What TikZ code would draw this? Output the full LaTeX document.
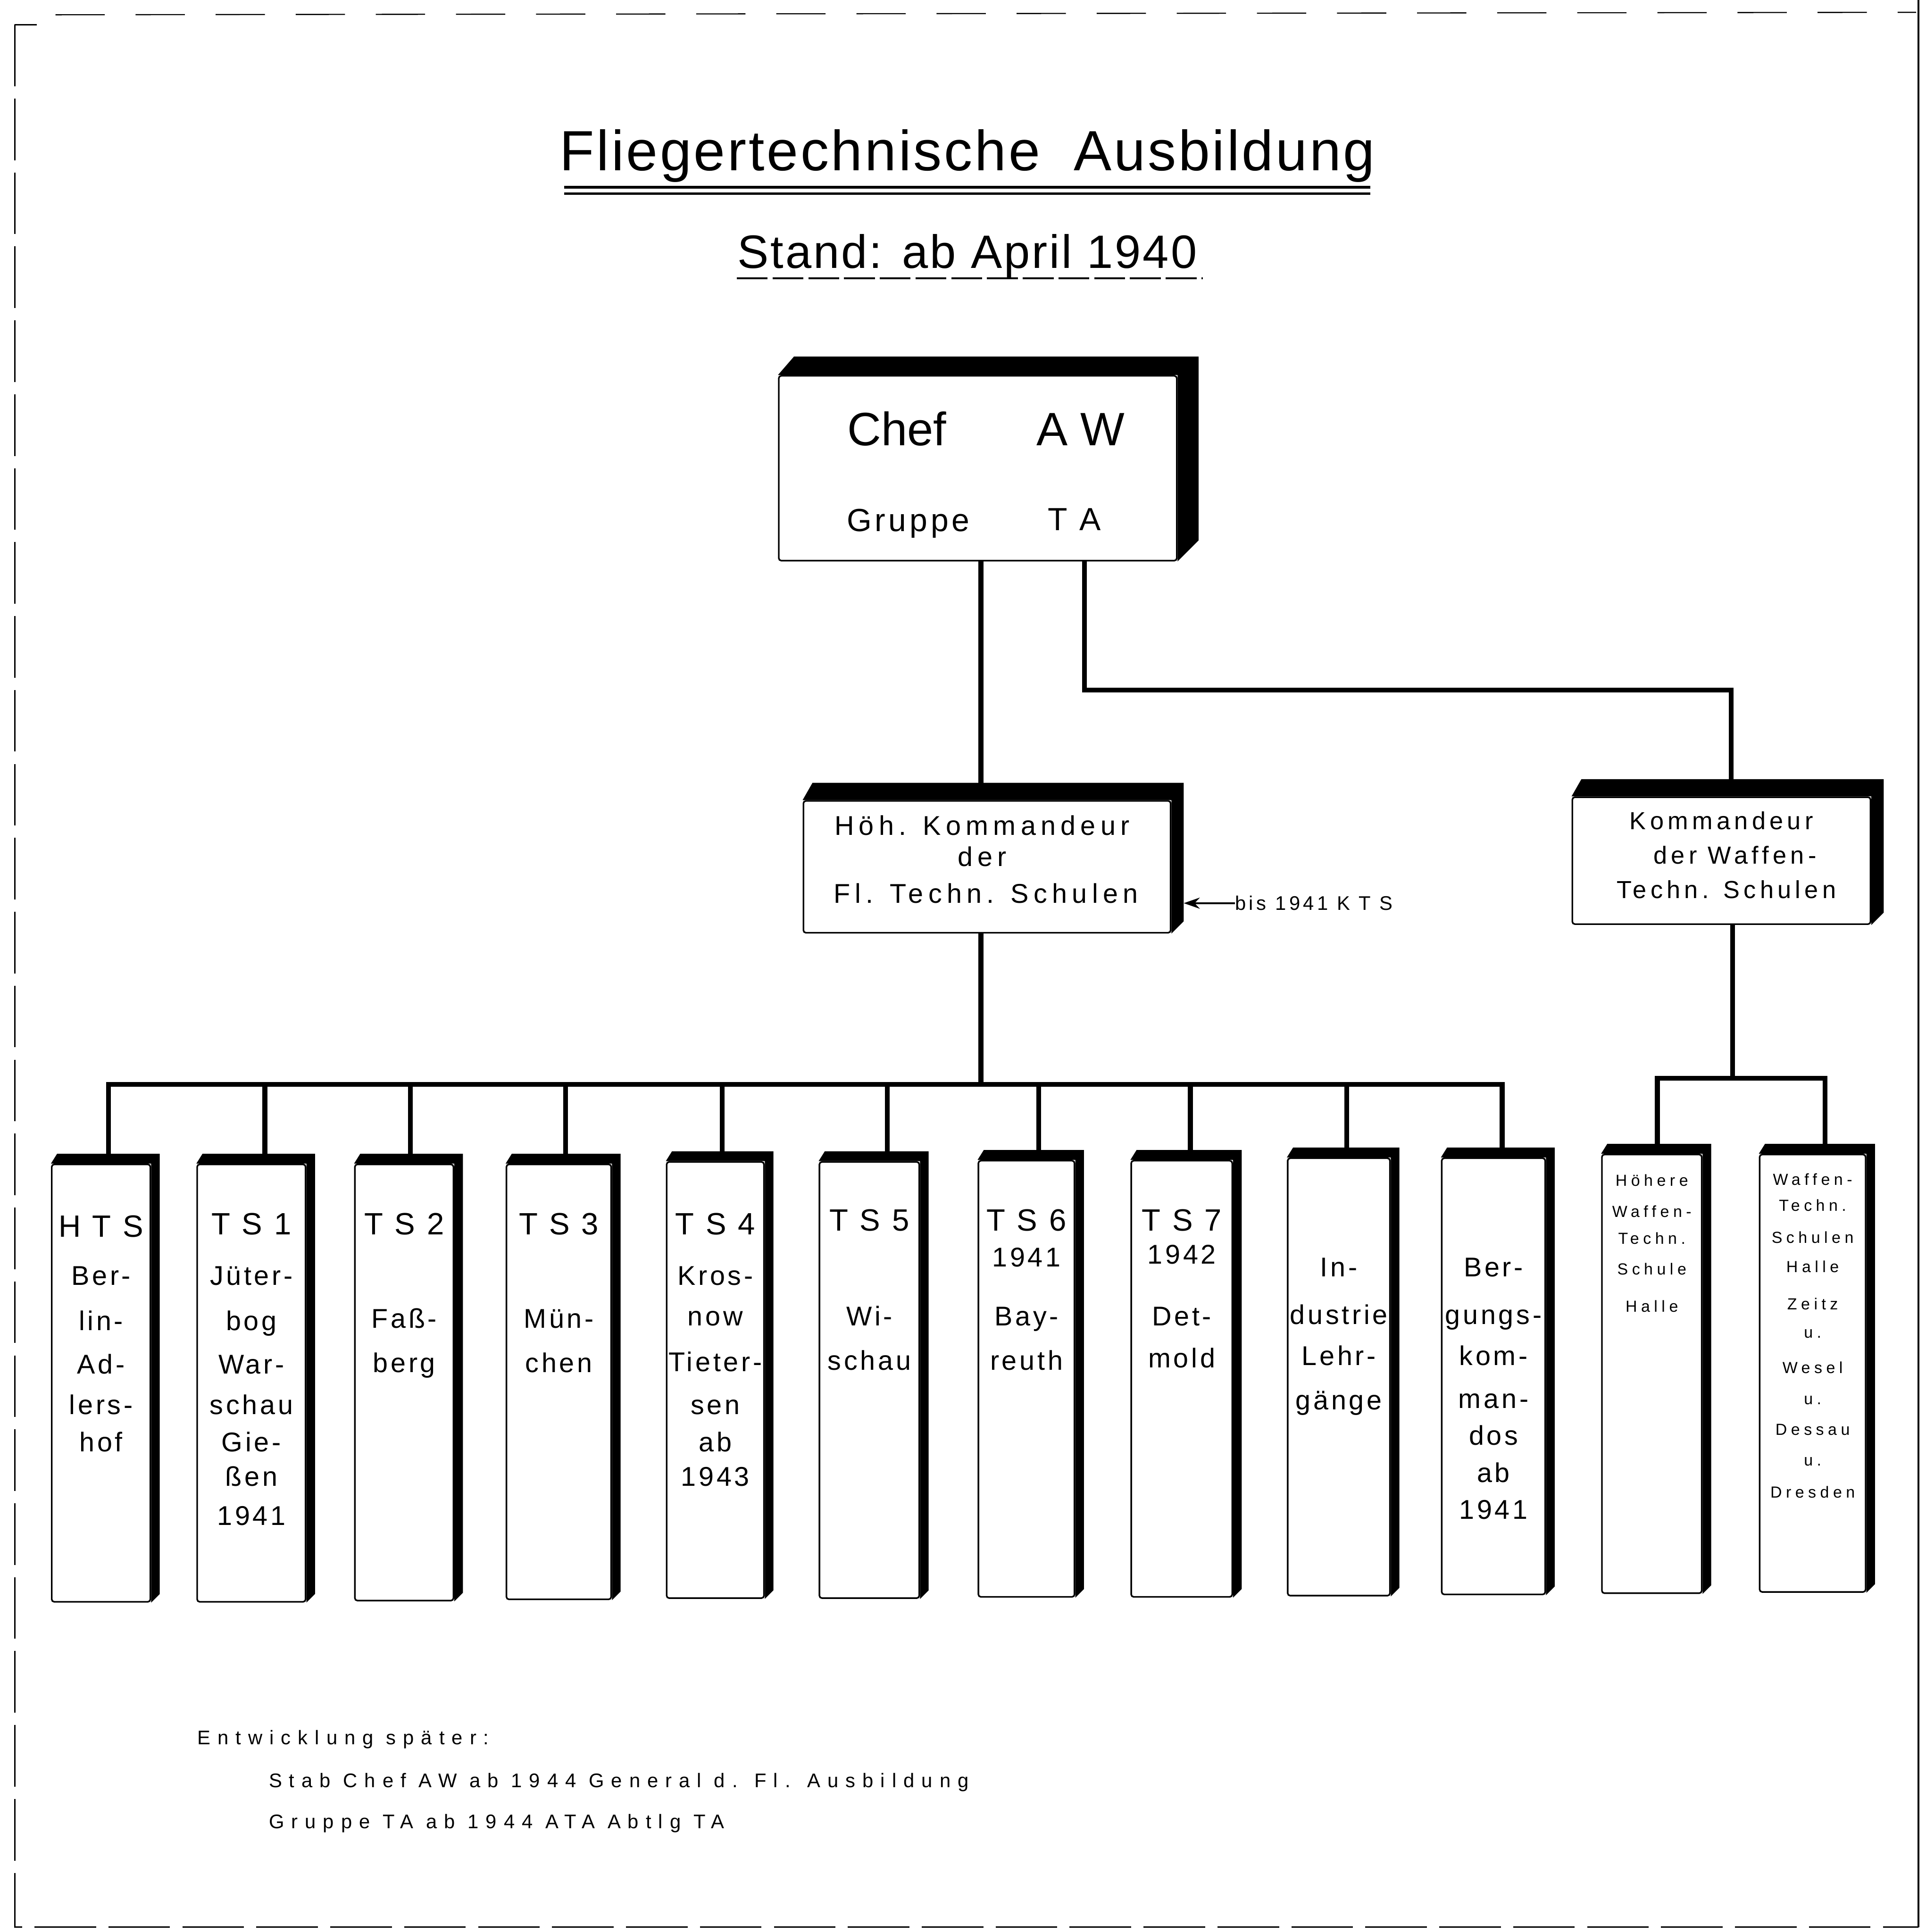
\documentclass[tikz,border=0pt]{standalone}
\usepackage{fontspec}
\setmainfont{Liberation Sans}
\newfontfamily\fT[LetterSpace=4]{Liberation Sans}
\newfontfamily\fM[LetterSpace=10]{Liberation Sans}
\newfontfamily\fH[LetterSpace=18]{Liberation Sans}
\newfontfamily\fW[LetterSpace=16]{Liberation Sans}
\newfontfamily\fS[LetterSpace=25]{Liberation Sans}
\newfontfamily\fF[LetterSpace=36]{Liberation Sans}
\usetikzlibrary{calc,arrows.meta}
\newcommand\boxshadow[4]{\fill[black] (#1.north west) -- ++(#4,-#3) -- ($(#1.north east)+(#2,-#3)$) -- ($(#1.south east)+(#2,-#2)$) -- (#1.south east) -- (#1.north east) -- cycle;}
\begin{document}
\begin{tikzpicture}[x=1pt,y=-1pt,
  front/.style={draw, line width=1.3pt, rounded corners=2pt, inner sep=0pt, fill=white},
  conn/.style={line width=4pt},
  frame/.style={line width=1.2pt, dash pattern=on 50pt off 10pt},
  lbl/.style={inner sep=0pt, anchor=base},
  bth/.style={lbl, yshift=-9pt, font=\fM\fontsize{25}{28}\selectfont},
  btx/.style={lbl, yshift=-7.9pt, font=\fM\fontsize{22}{25}\selectfont},
  bsm/.style={lbl, yshift=-4.7pt, font=\fS\fontsize{13}{15}\selectfont},
  mtx/.style={lbl, yshift=-7.9pt, font=\fH\fontsize{22}{25}\selectfont},
  wtx/.style={lbl, yshift=-7.2pt, font=\fW\fontsize{20}{23}\selectfont},
  fn/.style={inner sep=0pt, anchor=base west, yshift=-5.8pt, font=\fF\fontsize{16}{18}\selectfont}]
\useasboundingbox (0,0) rectangle (1563,1568);
% frame
\draw[frame] (12,20) -- (12,1564) -- (1557,1564);
\draw[line width=1.2pt] (12,20) -- (30,20);
\draw[line width=0.9pt, dash pattern=on 40pt off 25pt] (45,12) -- (1555,10);
\draw[line width=1.6pt] (1557,0) -- (1557,1564);
% titles
\node[lbl, yshift=-16.5pt, font=\fT\fontsize{46}{50}\selectfont] (title) at (785,122) {Fliegertechnische\hspace{0.6em}Ausbildung};
\draw[line width=2pt] (458,152) -- (1112,152);
\draw[line width=2pt] (458,157) -- (1112,157);
\node[lbl, yshift=-13.7pt, font=\fT\fontsize{38}{42}\selectfont] (sub) at (785,204) {Stand: ab April 1940};
\draw[line width=1.5pt, dash pattern=on 25pt off 4pt] (598,226) -- (976,226);
% Chef box
\node[front, minimum width=323pt, minimum height=150pt] (chef) at (793.5,380) {};
\boxshadow{chef}{17}{15}{13}
\node[lbl, yshift=-13.7pt, font=\fontsize{38}{42}\selectfont] (chef1) at (728,348) {Chef};
\node[lbl, yshift=-13.7pt, font=\fontsize{38}{42}\selectfont] (chef2) at (877,348) {A W};
\node[lbl, yshift=-9.4pt, font=\fM\fontsize{26}{30}\selectfont] (chef3) at (737,422) {Gruppe};
\node[lbl, yshift=-9.4pt, font=\fM\fontsize{26}{30}\selectfont] (chef4) at (872,421) {T A};
% Hoeh. Kdr box
\node[front, minimum width=298pt, minimum height=107pt] (hoeh) at (801,703.5) {};
\boxshadow{hoeh}{10}{14}{8}
\node[mtx] (hoeh1) at (797,670) {Höh. Kommandeur};
\node[mtx] (hoeh2) at (797,695) {der};
\node[mtx] (hoeh3) at (800,725) {Fl. Techn. Schulen};
% Waffen box
\node[front, minimum width=242pt, minimum height=103pt] (waffen) at (1397,698.5) {};
\boxshadow{waffen}{10}{14}{8}
\node[wtx] (waf1) at (1397,666) {Kommandeur};
\node[wtx] (waf2) at (1408,694) {der Waffen-};
\node[wtx] (waf3) at (1401,722) {Techn. Schulen};
% arrow label
\node[inner sep=0pt, anchor=base west, yshift=-5.8pt, font=\fW\fontsize{16}{18}\selectfont] (kts) at (1002,733) {bis 1941 K T S};
\coordinate (arrtip) at ($(hoeh.east)+(10,0)$);
\coordinate (arrtail) at (1002,733);
\draw[line width=1.6pt, -{Stealth[length=13pt,width=9pt]}] (arrtail) -- (arrtip |- arrtail);
% connectors from Chef
\draw[conn] ($(chef.south)+(2.5,0)$) -- ($(hoeh.north)+(-5,-14)$);
\coordinate (elb) at (1405,560);
\draw[conn] ($(chef.south)+(86.5,0)$) |- (elb) -- ($(waffen.north)+(8,-14)$);
% bottom boxes
\foreach \i/\xa/\xb/\ya/\yb/\dx in {1/42/122/945/1300/6, 2/160/248/945/1300/11, 3/288/368/945/1299/5, 4/411/496/945/1298/5.5, 5/541/620/943/1297/5.5, 6/665/746/943/1297/14.5, 7/794/872/942/1296/10, 8/918/1000/942/1296/7, 9/1045/1128/940/1295/6.5, 10/1170/1254/940/1294/7, 11/1300/1381/937/1293/4.5, 12/1428/1514/937/1292/10}{
  \pgfmathsetmacro\w{\xb-\xa}
  \pgfmathsetmacro\h{\yb-\ya}
  \pgfmathsetmacro\cx{(\xa+\xb)/2}
  \pgfmathsetmacro\cy{(\ya+\yb)/2}
  \node[front, minimum width=\w pt, minimum height=\h pt] (b\i) at (\cx,\cy) {};
  \boxshadow{b\i}{7}{8}{5}
  \coordinate (t\i) at ($(b\i.north)+(\dx,-8)$);
}
\coordinate (busY) at (0,880);
\coordinate (busY2) at (0,875);
\draw[conn] (t1) -- (t1 |- busY) -- (t10 |- busY) -- (t10);
\foreach \i in {2,...,9}{\draw[conn] (t\i) -- (t\i |- busY);}
\path ($(hoeh.south)+(-5,0)$) coordinate (hb);
\draw[conn] (hb) -- (hb |- busY);
\draw[conn] (t11) -- (t11 |- busY2) -- (t12 |- busY2) -- (t12);
\path ($(waffen.south)+(9,0)$) coordinate (wb);
\draw[conn] (wb) -- (wb |- busY2);
% box texts
\node[bth] (h1) at (82,995) {H T S};
\foreach \yy/\s [count=\k] in {1035/Ber-, 1072/lin-, 1107/Ad-, 1140/lers-, 1170/hof}{\node[btx] (l1-\k) at (82,\yy) {\s};}
\node[bth] (h2) at (204,993) {T S 1};
\foreach \yy/\s [count=\k] in {1035/Jüter-, 1072/bog/, 1107/War-, 1140/schau, 1170/Gie-, 1198/ßen, 1230/1941}{\node[btx] (l2-\k) at (204,\yy) {\s};}
\node[bth] (h3) at (328,993) {T S 2};
\foreach \yy/\s [count=\k] in {1070/Faß-, 1106/berg}{\node[btx] (l3-\k) at (328,\yy) {\s};}
\node[bth] (h4) at (453.5,993) {T S 3};
\foreach \yy/\s [count=\k] in {1070/Mün-, 1106/chen}{\node[btx] (l4-\k) at (453.5,\yy) {\s};}
\node[bth] (h5) at (580.5,993) {T S 4};
\foreach \yy/\s [count=\k] in {1035/Kros-, 1068/now, 1105/Tieter-, 1140/sen, 1170/ab, 1198/1943}{\node[btx] (l5-\k) at (580.5,\yy) {\s};}
\node[bth] (h6) at (705.5,990) {T S 5};
\foreach \yy/\s [count=\k] in {1068/Wi-, 1104/schau}{\node[btx] (l6-\k) at (705.5,\yy) {\s};}
\node[bth] (h7) at (833,990) {T S 6};
\foreach \yy/\s [count=\k] in {1020/1941, 1068/Bay-, 1104/reuth}{\node[btx] (l7-\k) at (833,\yy) {\s};}
\node[bth] (h8) at (959,990) {T S 7};
\foreach \yy/\s [count=\k] in {1018/1942, 1068/Det-, 1102/mold}{\node[btx] (l8-\k) at (959,\yy) {\s};}
\foreach \yy/\s [count=\k] in {1028/In-, 1067/dustrie, 1100/Lehr-, 1136/gänge}{\node[btx] (l9-\k) at (1086.5,\yy) {\s};}
\foreach \yy/\s [count=\k] in {1028/Ber-, 1067/gungs-, 1100/kom-, 1135/man-, 1165/dos, 1195/ab, 1225/1941}{\node[btx] (l10-\k) at (1212,\yy) {\s};}
\foreach \yy/\s [count=\k] in {958/Höhere, 983/Waffen-, 1005/Techn., 1030/Schule, 1060/Halle}{\node[bsm] (l11-\k) at (1340.5,\yy) {\s};}
\foreach \yy/\s [count=\k] in {957/Waffen-, 978/Techn., 1004/Schulen, 1028/Halle, 1058/Zeitz, 1081/u., 1110/Wesel, 1135/u., 1160/Dessau, 1185/u., 1211/Dresden}{\node[bsm] (l12-\k) at (1471,\yy) {\s};}
% footnote
\node[fn] (fn1) at (160,1410) {Entwicklung später:};
\node[fn] (fn2) at (218,1445) {Stab Chef AW ab 1944 General d. Fl. Ausbildung};
\node[fn] (fn3) at (218,1478) {Gruppe TA ab 1944 ATA Abtlg TA};
\end{tikzpicture}
\end{document}
